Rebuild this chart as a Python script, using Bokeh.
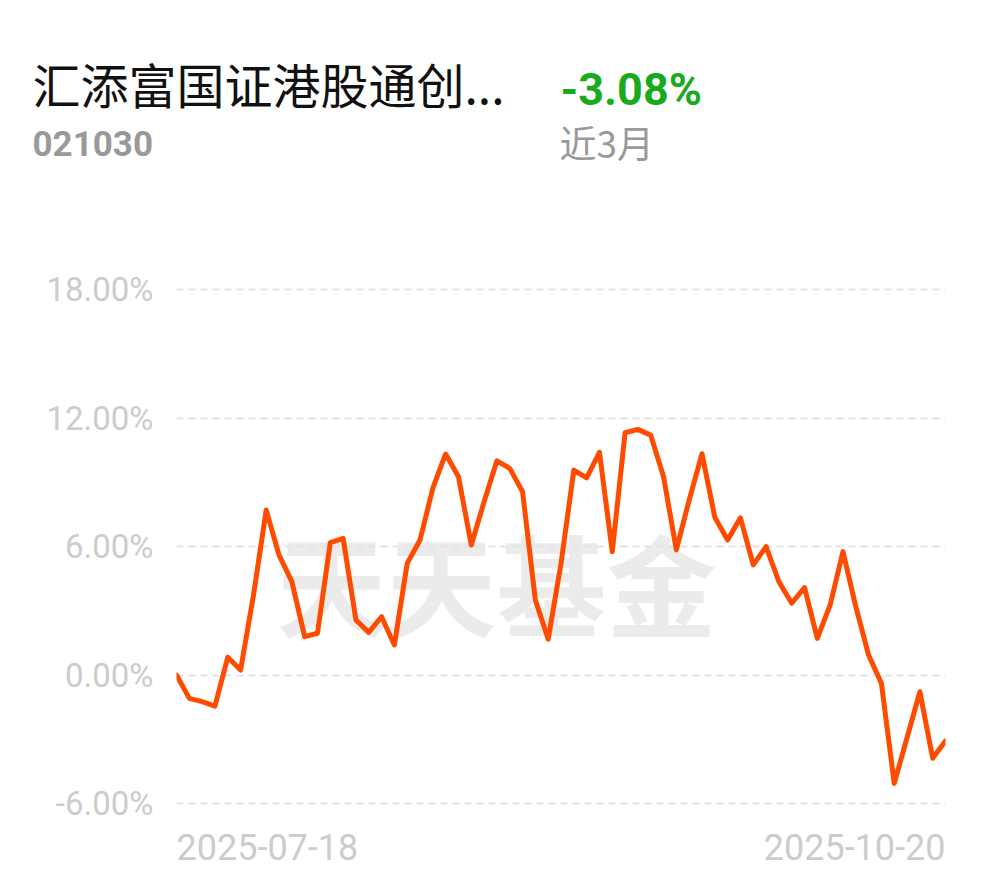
from bokeh.plotting import figure
from bokeh.models import Range1d, FixedTicker
from bokeh.layouts import column
from bokeh.core.properties import value
from bokeh.embed import file_html
from bokeh.resources import INLINE

# ---- data ----
fund_name = "汇添富国证港股通创..."
fund_code = "021030"
period_return = "-3.08%"
period_label = "近3月"
watermark = "天天基金"
date_labels = ["2025-07-18", "2025-10-20"]
y_ticks = [-6, 0, 6, 12, 18]
y_tick_labels = ["-6.00%", "0.00%", "6.00%", "12.00%", "18.00%"]
returns = [
    0.00, -1.09, -1.24, -1.45, 0.83, 0.23, 3.70, 7.70, 5.60, 4.36,
    1.79, 1.95, 6.18, 6.38, 2.57, 1.99, 2.72, 1.40, 5.21, 6.30,
    8.72, 10.32, 9.26, 6.07, 8.09, 10.00, 9.65, 8.56, 3.50, 1.67,
    5.20, 9.57, 9.21, 10.40, 5.76, 11.31, 11.47, 11.20, 9.26, 5.84,
    8.17, 10.33, 7.37, 6.30, 7.34, 5.14, 5.99, 4.36, 3.35, 4.08,
    1.71, 3.27, 5.76, 3.19, 0.93, -0.39, -5.06, -2.93, -0.78, -3.89,
    -3.08,
]

# ---- header (pixel-space figure) ----
W = 990
HH = 200
hdr = figure(width=W, height=HH, x_range=Range1d(0, W), y_range=Range1d(HH, 0),
             output_backend="svg", toolbar_location=None, min_border=0,
             x_axis_location=None, y_axis_location=None, outline_line_color=None,
             frame_align=False)
hdr.grid.visible = False

def htext(text, px, py, font, size, color, bold=False):
    hdr.text(x=[px], y=[py], text=[text], text_font=value(font), text_font_size=size,
             text_color=color, text_font_style="bold" if bold else "normal",
             text_align="left", text_baseline="middle")

htext(fund_name, 32, 82, "Noto Sans CJK SC", "48px", "#111111")
htext(period_return, 560, 89, "Roboto", "45px", "#1aaa1e", bold=True)
htext(fund_code, 32, 143, "Roboto", "35px", "#999999", bold=True)
htext(period_label, 559, 141, "Noto Sans CJK SC", "37px", "#999999")

# ---- chart geometry (pixels inside chart figure) ----
CH = 878 - HH
FL, FR, FT, FB = 176, 945, 225 - HH, CH
n = len(returns)
px_per_pct = (803 - 289) / 24.0
g18 = 289 - HH                                 # y of 18% gridline
y_top = 18 + (g18 - FT) / px_per_pct
y_bot = -6 - (FB - (803 - HH)) / px_per_pct

def dy(py_page):
    return 18 - (py_page - 289) / px_per_pct

p = figure(width=W, height=CH, x_range=Range1d(0, n - 1), y_range=Range1d(y_bot, y_top),
           output_backend="svg", toolbar_location=None, x_axis_location=None,
           min_border_left=FL, min_border_right=W - FR, min_border_top=FT, min_border_bottom=0,
           outline_line_color=None, background_fill_color="white", border_fill_color="white",
           frame_align=False)

# watermark
p.text(x=[(496 - FL) / ((FR - FL) / (n - 1))], y=[dy(580)], text=[watermark],
       text_font=value("Noto Sans CJK SC"), text_font_size="110px", text_font_style="bold",
       text_color="#ebebeb", text_align="center", text_baseline="middle", level="image")

# y axis
p.yaxis.ticker = FixedTicker(ticks=y_ticks, minor_ticks=[])
p.yaxis.major_label_overrides = {t: l for t, l in zip(y_ticks, y_tick_labels)}
p.yaxis.axis_line_color = None
p.yaxis.major_tick_line_color = None
p.yaxis.minor_tick_line_color = None
p.yaxis.major_tick_out = 0
p.yaxis.major_label_standoff = 23
p.yaxis.major_label_text_font = "Roboto"
p.yaxis.major_label_text_font_size = "33px"
p.yaxis.major_label_text_color = "#cccccc"

p.xgrid.visible = False
p.ygrid.grid_line_color = "#e4e4e4"
p.ygrid.grid_line_width = 2
p.ygrid.grid_line_dash = "7 5"

# series
p.line(x=list(range(n)), y=returns, line_color="#ff4b00", line_width=5,
       line_join="round", line_cap="round")

# date labels
p.text(x=[0], y=[dy(846)], text=[date_labels[0]], text_font=value("Roboto"), text_font_size="36px",
       text_color="#cccccc", text_align="left", text_baseline="middle")
p.text(x=[n - 1], y=[dy(846)], text=[date_labels[1]], text_font=value("Roboto"), text_font_size="36px",
       text_color="#cccccc", text_align="right", text_baseline="middle")

layout = column(hdr, p, spacing=0)
open("out.html", "w").write(file_html(layout, INLINE))
